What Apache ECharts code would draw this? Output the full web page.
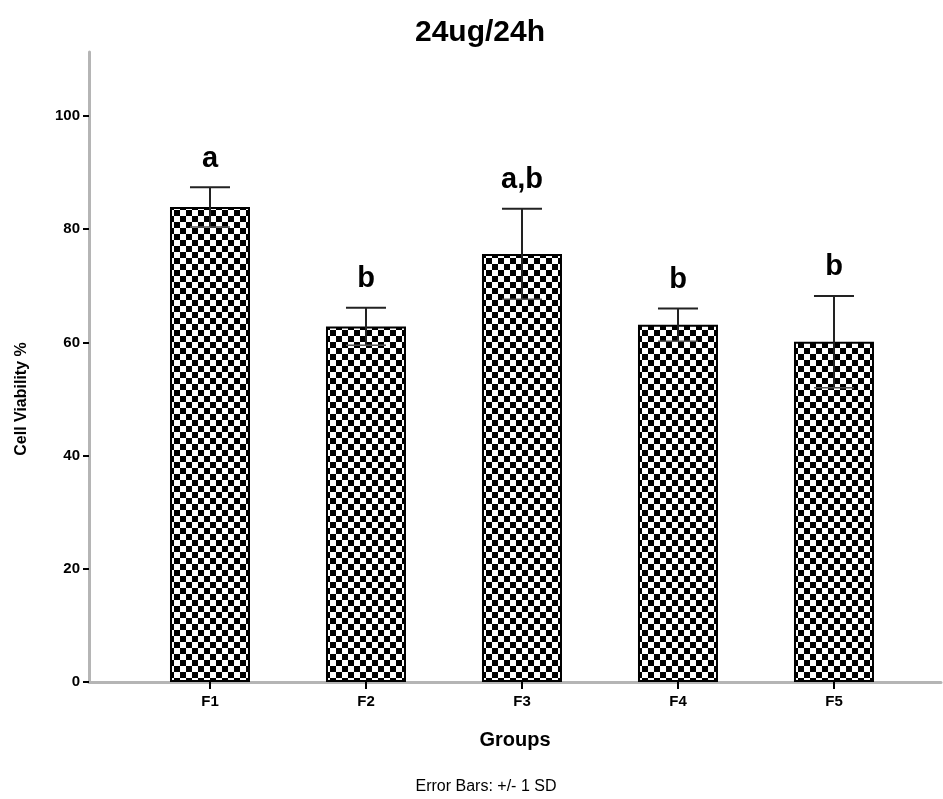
<!DOCTYPE html>
<html><head><meta charset="utf-8">
<script src="https://cdn.jsdelivr.net/npm/echarts@6/dist/echarts.min.js"></script>
<style>html,body{margin:0;padding:0;background:#fff}#c{width:943px;height:799px}</style>
</head><body><div id="c"></div>
<script>
const categories = ['F1', 'F2', 'F3', 'F4', 'F5'];
const viability = [83.9, 62.8, 75.6, 63.1, 60.1];
const sd = [3.5, 3.3, 8.0, 2.9, 8.1];
const letters = ['a', 'b', 'a,b', 'b', 'b'];
const yTicks = [0, 20, 40, 60, 80, 100];

const FONT = '"Liberation Sans", Arial, sans-serif';
const positions = categories.map((c, i) => i + 1);

// checkerboard pattern
const SQ = 6;
const pat = document.createElement('canvas');
pat.width = SQ * 2; pat.height = SQ * 2;
const pc = pat.getContext('2d');
pc.fillStyle = '#fff'; pc.fillRect(0, 0, SQ * 2, SQ * 2);
pc.fillStyle = '#000'; pc.fillRect(0, 0, SQ, SQ); pc.fillRect(SQ, SQ, SQ, SQ);

const chart = echarts.init(document.getElementById('c'), null, { renderer: 'canvas' });
chart.setOption({
  backgroundColor: '#fff',
  animation: false,
  title: {
    text: '24ug/24h', left: 475, top: 13, textAlign: 'center',
    textStyle: { fontFamily: FONT, fontWeight: 'bold', fontSize: 30, color: '#000' }
  },
  grid: { left: 89, right: 2, top: 52, bottom: 117, containLabel: false },
  xAxis: {
    type: 'value', min: 0.2244, max: 5.686,
    name: 'Groups', nameLocation: 'middle', nameGap: 48,
    nameTextStyle: { fontFamily: FONT, fontWeight: 'bold', fontSize: 20, color: '#000' },
    axisLine: { show: true, onZero: false, lineStyle: { color: '#b5b5b5', width: 3 } },
    axisTick: { show: true, customValues: positions, length: 7, lineStyle: { color: '#000', width: 2 } },
    axisLabel: { customValues: positions, margin: 12, formatter: v => categories[Math.round(v) - 1] || '',
      fontFamily: FONT, fontWeight: 'bold', fontSize: 15, color: '#000' },
    splitLine: { show: false }
  },
  yAxis: {
    type: 'value', min: 0, max: 111.3,
    axisLine: { show: true, onZero: false, lineStyle: { color: '#b5b5b5', width: 3 } },
    axisTick: { show: true, customValues: yTicks, length: 6, lineStyle: { color: '#000', width: 2 } },
    axisLabel: { customValues: yTicks, margin: 9,
      fontFamily: FONT, fontWeight: 'bold', fontSize: 15, color: '#000' },
    splitLine: { show: false }
  },
  graphic: [
    { type: 'text', x: 22, y: 399, rotation: Math.PI / 2,
      style: { text: 'Cell Viability %', fill: '#000', font: 'bold 16px ' + FONT, align: 'center', verticalAlign: 'middle' } },
    { type: 'text', x: 486, y: 787,
      style: { text: 'Error Bars: +/- 1 SD', fill: '#000', font: '16px ' + FONT, align: 'center', verticalAlign: 'middle' } }
  ],
  series: [
    {
      type: 'bar', barWidth: 80,
      data: viability.map((v, i) => [positions[i], v]),
      itemStyle: { color: { image: pat, repeat: 'repeat' }, borderColor: '#000', borderWidth: 2 },
      z: 2
    },
    {
      type: 'custom', z: 5,
      data: viability.map((v, i) => [positions[i], v, sd[i]]),
      renderItem: function (params, api) {
        const x = api.value(0), m = api.value(1), s = api.value(2);
        const hi = api.coord([x, m + s]), lo = api.coord([x, m - s]);
        const h = 20;
        const st = { stroke: '#222', lineWidth: 2 };
        return { type: 'group', children: [
          { type: 'line', shape: { x1: hi[0], y1: hi[1], x2: lo[0], y2: lo[1] }, style: st },
          { type: 'line', shape: { x1: hi[0] - h, y1: hi[1], x2: hi[0] + h, y2: hi[1] }, style: st },
          { type: 'line', shape: { x1: lo[0] - h, y1: lo[1], x2: lo[0] + h, y2: lo[1] }, style: { stroke: '#555', lineWidth: 1.5 } },
          { type: 'text', x: hi[0], y: hi[1] - 14,
            style: { text: letters[params.dataIndex], fill: '#000', font: 'bold 29px ' + FONT, align: 'center', verticalAlign: 'bottom' } }
        ] };
      }
    }
  ]
});
</script></body></html>
